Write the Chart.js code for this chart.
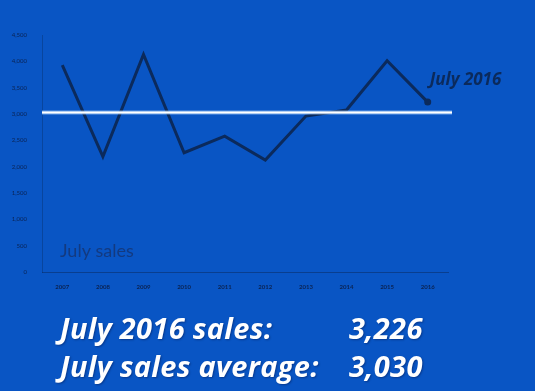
<!DOCTYPE html>
<html>
<head>
<meta charset="utf-8">
<script src="https://cdn.jsdelivr.net/npm/chart.js@4"></script>
<style>
  html, body { margin: 0; padding: 0; background: #0955c4; }
  #wrap { position: relative; width: 535px; height: 391px; }
  canvas { position: absolute; left: 0; top: 0; }
  .big { position: absolute; color: #fff; font-family: "Open Sans", sans-serif; font-weight: bold; font-style: italic;
         font-size: 29px; line-height: 29px; letter-spacing: 0.3px; text-shadow: 1px 1px 2px rgba(0,0,40,0.35); white-space: nowrap; }
</style>
</head>
<body>
<div id="wrap">
  <canvas id="line-chart" width="535" height="391"></canvas>
  <div class="big" style="left:60px; top:313px;">July 2016 sales:</div>
  <div class="big" style="left:349px; top:313px;">3,226</div>
  <div class="big" style="left:60px; top:351px;">July sales average:</div>
  <div class="big" style="left:349px; top:351px;">3,030</div>
</div>
<script>
// July sales by year
const years = ['2007','2008','2009','2010','2011','2012','2013','2014','2015','2016'];
const sales = [3930, 2190, 4130, 2265, 2580, 2125, 2960, 3075, 4010, 3226];
const average = 3030;

const navy = '#0b2a5c';

// white average line + text labels
const overlay = {
  id: 'overlay',
  afterDatasetsDraw(chart) {
    const c = chart.ctx;
    const y = chart.scales.y.getPixelForValue(average);
    const a = chart.chartArea;
    c.save();
    c.strokeStyle = 'rgba(170,210,255,0.6)';
    c.lineWidth = 4;
    c.beginPath(); c.moveTo(a.left, y); c.lineTo(a.right + 4, y); c.stroke();
    c.strokeStyle = '#ffffff';
    c.lineWidth = 2;
    c.beginPath(); c.moveTo(a.left, y); c.lineTo(a.right + 4, y); c.stroke();

    const last = chart.getDatasetMeta(0).data[sales.length - 1];
    c.fillStyle = navy;
    c.font = 'italic bold 17px "Open Sans", sans-serif';
    c.textBaseline = 'alphabetic';
    c.fillText('July 2016', last.x + 2, last.y - 17);

    c.fillStyle = '#133a80';
    c.font = '18px Lato, sans-serif';
    c.fillText('July sales', a.left + 18, a.bottom - 15);
    c.restore();
  }
};

new Chart(document.getElementById('line-chart'), {
  type: 'line',
  data: {
    labels: years,
    datasets: [{
      data: sales,
      borderColor: navy,
      borderWidth: 3,
      tension: 0,
      pointRadius: ctx => ctx.dataIndex === sales.length - 1 ? 3.5 : 0,
      pointBackgroundColor: navy,
      pointBorderWidth: 0,
      fill: false
    }]
  },
  options: {
    responsive: false,
    animation: false,
    layout: { padding: { top: 35, right: 87, bottom: 99, left: 0 } },
    plugins: { legend: { display: false }, tooltip: { enabled: false } },
    scales: {
      x: {
        offset: true,
        grid: { display: false },
        border: { color: 'rgba(10,40,90,0.5)' },
        ticks: { color: '#0b2352', font: { family: 'Lato', size: 6, weight: 'bold' }, padding: 3, maxRotation: 0 },
        afterFit: s => { s.height = 20; }
      },
      y: {
        min: 0, max: 4500,
        grid: { display: false },
        border: { color: 'rgba(10,40,90,0.35)' },
        ticks: { stepSize: 500, color: '#0b2352', font: { family: 'Lato', size: 6 }, padding: 7 },
        afterFit: s => { s.width = 42; }
      }
    }
  },
  plugins: [overlay]
});
</script>
</body>
</html>
